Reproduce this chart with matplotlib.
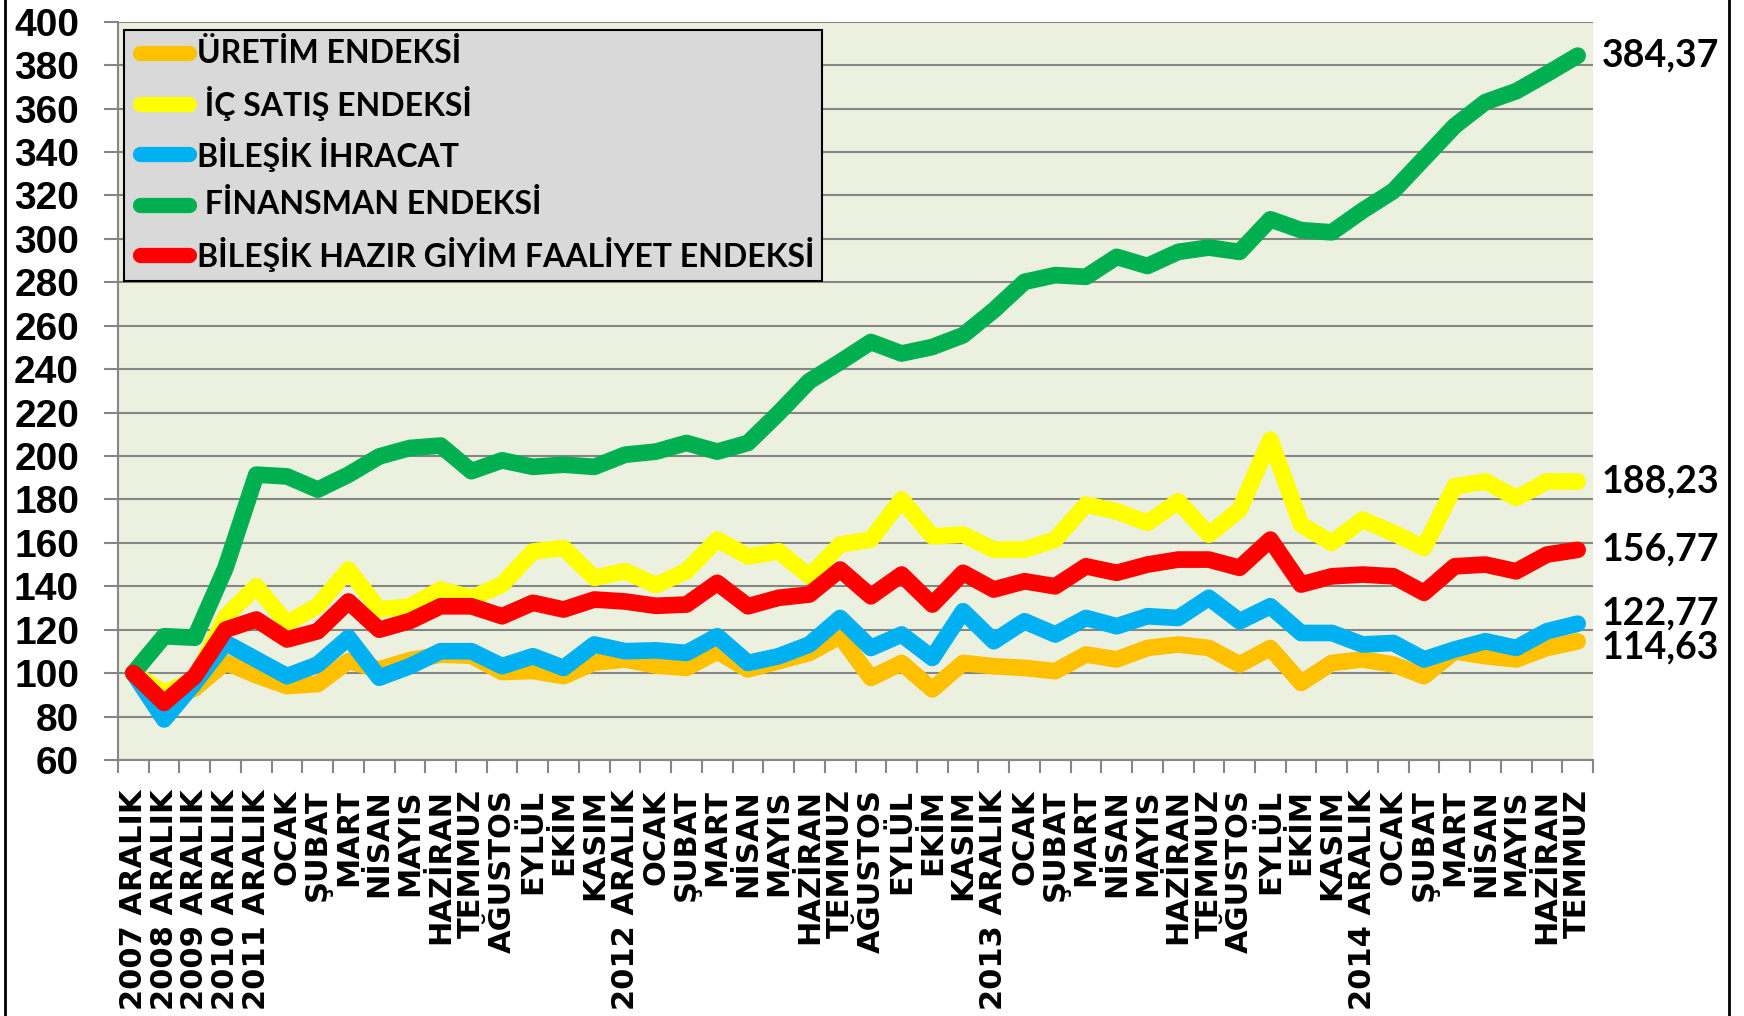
import matplotlib
matplotlib.use("Agg")
import matplotlib.pyplot as plt
import numpy as np
from matplotlib.lines import Line2D
from matplotlib.patches import Rectangle

W, H = 1744, 1016

months = ["OCAK", "ŞUBAT", "MART", "NİSAN", "MAYIS", "HAZİRAN", "TEMMUZ",
          "AĞUSTOS", "EYLÜL", "EKİM", "KASIM"]
categories = (["2007 ARALIK", "2008 ARALIK", "2009 ARALIK", "2010 ARALIK", "2011 ARALIK"]
              + months + ["2012 ARALIK"] + months + ["2013 ARALIK"] + months
              + ["2014 ARALIK"] + months[:7])

uretim = [100, 88, 93, 105, 99, 94, 95, 105.5, 101.7, 106, 108.5, 108, 100.5, 101, 98.6, 104.8,
          106.3, 103.5, 102.4, 110, 101.7, 105.5, 109.3, 117, 97.8, 104.7, 92.5, 104.7,
          103.2, 102.4, 100.9, 108.6, 106.3, 111.6, 113.2, 111.6, 104, 111.6, 95.5, 104.7,
          106.3, 104, 98.6, 110, 107.8, 106.3, 111.6, 114.63]
ic_satis = [100, 91, 97, 126, 140, 123, 131, 147.7, 129.3, 130.8, 138.5, 134.7, 140.8, 156, 157.7,
            143.9, 147, 140.5, 147, 161.5, 153.8, 156.1, 144.6, 159.2, 161.5, 180, 163, 163.8,
            156.9, 156.9, 161.5, 177.6, 174.5, 169.2, 179.1, 163.8, 175.3, 207.5, 168.4, 160,
            170.7, 164.6, 157.7, 186, 188.3, 180.7, 188.3, 188.23]
ihracat = [100, 78.7, 95.6, 114, 106.3, 98.6, 104, 116.3, 97.9, 103.2, 110.1, 110.1, 103.2, 107.8,
           102.4, 113.2, 110.1, 110.5, 109.3, 117, 104.7, 107.8, 113.2, 125.4, 111.6, 117.8, 107,
           128.5, 114.7, 123.9, 117.8, 125.4, 121.6, 126.2, 125.4, 134.7, 123.9, 130.8, 118.5,
           118.5, 113.2, 113.9, 106.3, 110.9, 114.7, 111.6, 119.3, 122.77]
finansman = [100, 117, 116.3, 148.5, 191.4, 190.6, 184.5, 191.4, 199.8, 203.7, 204.8, 193,
             198, 195, 196, 195, 200.6, 202, 206, 202, 206, 219.8, 234.5, 243.3, 252.5, 247.2,
             250.2, 255.6, 267.1, 280.2, 283.3, 282.5, 291.7, 287.5, 294, 296, 294, 309, 304,
             303, 313, 322, 337, 352, 363, 368, 376, 384.37]
hazir_giyim = [100, 86.3, 98.6, 120, 124.7, 115.5, 119.3, 133, 120, 124, 130.8, 130.8, 126.2,
               132.4, 129.3, 133.9, 133, 131, 131.6, 141.6, 130.8, 134.7, 136.2, 147.7, 135.4,
               145.4, 131.6, 146.2, 138.5, 142.3, 140, 149.2, 146.2, 150, 152.3, 152.3, 148.5,
               161.5, 140.8, 144.6, 145.4, 144.6, 137, 149.2, 150, 146.9, 154.6, 156.77]

series_names = ["ÜRETİM ENDEKSİ", " İÇ SATIŞ ENDEKSİ", "BİLEŞİK İHRACAT",
                " FİNANSMAN ENDEKSİ", "BİLEŞİK HAZIR GİYİM FAALİYET ENDEKSİ"]
series_colors = ["#FFC000", "#FFFF00", "#00B0F0", "#00B050", "#FF0000"]
end_label_shift = [-6, 0, 10, 0, 0]  # pixels up, keeps end labels apart


def fx(px):
    return px / W


def fy(py):
    return 1 - py / H


def main() -> None:
    series = [uretim, ic_satis, ihracat, finansman, hazir_giyim]
    grid_col = "#868686"

    fig = plt.figure(figsize=(W / 100, H / 100), dpi=100)
    ax = fig.add_axes([fx(118), fy(760), (1593 - 118) / W, (760 - 21.7) / H])
    ax.set_facecolor("#EBF1DE")

    x = np.arange(len(categories))
    for vals, col in zip(series, series_colors):
        ax.plot(x, vals, color=col, lw=12, solid_capstyle="round", solid_joinstyle="round",
                zorder=3)

    for vals, shift in zip(series, end_label_shift):
        txt = f"{vals[-1]:.2f}".replace(".", ",")
        ax.annotate(txt, xy=(x[-1], vals[-1]), xytext=(24, shift), textcoords="offset pixels",
                    ha="left", va="center", fontsize=27, fontweight="bold", family="Lato",
                    annotation_clip=False)

    ax.set_xlim(-0.5, len(categories) - 0.5)
    ax.set_ylim(60, 400)
    ax.set_yticks(range(60, 401, 20))
    ax.set_yticklabels([str(v) for v in range(60, 401, 20)], fontsize=28, fontweight="bold",
                       family="Liberation Sans")
    ax.tick_params(axis="y", length=10, width=1.5, color=grid_col, pad=18)

    ax.set_xticks(x)
    ax.set_xticklabels(categories, rotation=90, fontsize=22, fontweight="bold",
                       family="DejaVu Sans")
    ax.tick_params(axis="x", which="major", length=0, pad=21)
    ax.set_xticks(np.arange(-0.5, len(categories)), minor=True)
    ax.tick_params(axis="x", which="minor", length=9.5, width=1.5, color=grid_col)

    ax.yaxis.grid(True, color=grid_col, lw=1.5)
    ax.set_axisbelow(True)
    for side in ("top", "right"):
        ax.spines[side].set_visible(False)
    for side in ("left", "bottom"):
        ax.spines[side].set_color(grid_col)
        ax.spines[side].set_linewidth(1.5)

    # legend box drawn by hand to sit where the original one does
    fig.add_artist(Rectangle((fx(124), fy(281)), (822 - 124) / W, (281 - 30) / H,
                             transform=fig.transFigure, facecolor="#D9D9D9",
                             edgecolor="black", lw=1.5, zorder=5))
    for k, (name, col) in enumerate(zip(series_names, series_colors)):
        yc = 53 + k * 50.5
        fig.add_artist(Line2D([fx(140), fx(189)], [fy(yc), fy(yc)], color=col, lw=11,
                              solid_capstyle="round", transform=fig.transFigure, zorder=6))
        fig.text(fx(197), fy(yc), name, ha="left", va="center", fontsize=23,
                 fontweight="bold", family="Lato", zorder=6)

    for xp in (5, 1729):
        fig.add_artist(Line2D([fx(xp), fx(xp)], [0, 1], color="black", lw=2,
                              transform=fig.transFigure))

    fig.savefig("out.png", dpi=100)


if __name__ == "__main__":
    main()
